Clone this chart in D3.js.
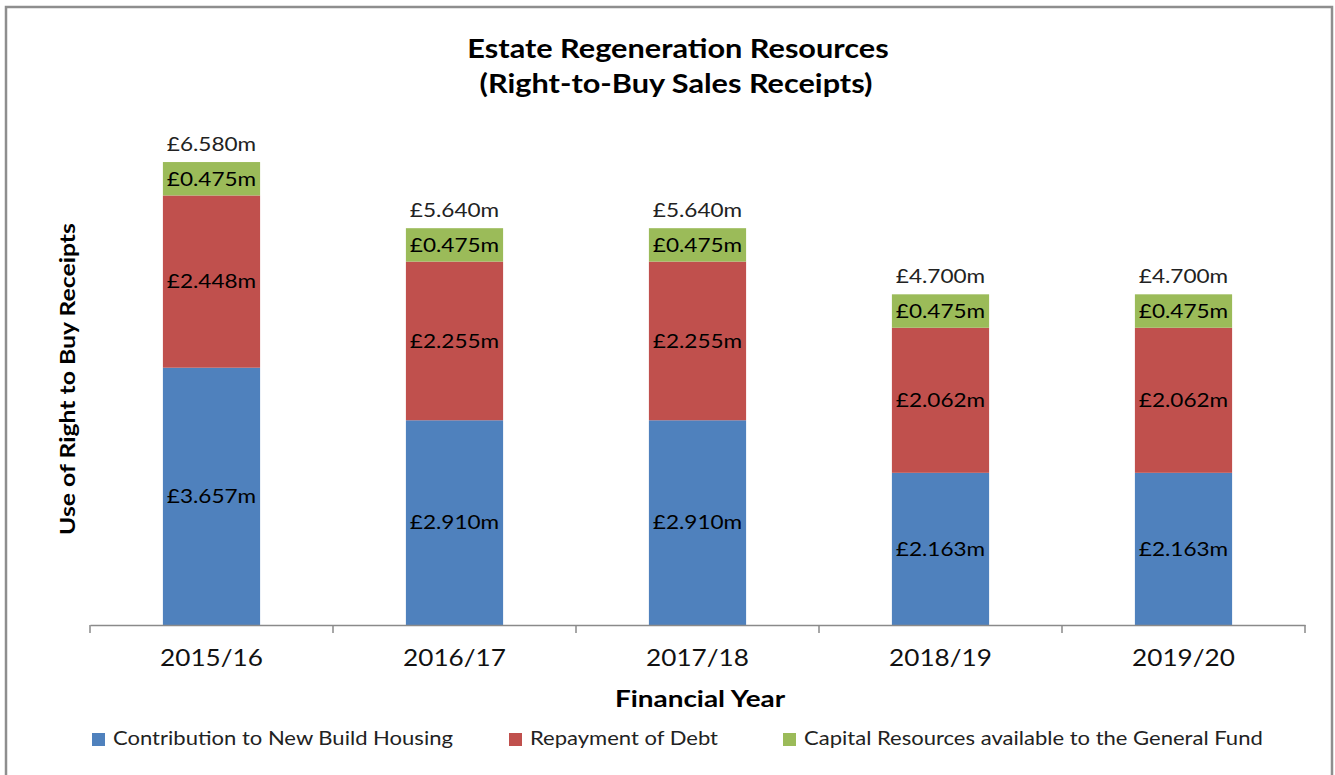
<!DOCTYPE html>
<html>
<head>
<meta charset="utf-8">
<script src="https://cdn.jsdelivr.net/npm/d3@7"></script>
<style>
  body { margin: 0; background: #fff; }
  text { font-family: Lato, "Open Sans", sans-serif; }
</style>
</head>
<body>
<div id="chart"></div>
<script>
// chart data
const years = ["2015/16", "2016/17", "2017/18", "2018/19", "2019/20"];
const newBuild = [3.657, 2.910, 2.910, 2.163, 2.163];
const debt = [2.448, 2.255, 2.255, 2.062, 2.062];
const generalFund = [0.475, 0.475, 0.475, 0.475, 0.475];
const totals = [6.580, 5.640, 5.640, 4.700, 4.700];
const seriesNames = ["Contribution to New Build Housing", "Repayment of Debt", "Capital Resources available to the General Fund"];
const seriesColors = ["#4F81BD", "#C0504D", "#9BBB59"];

const W = 1335, H = 775;
const svg = d3.select("#chart").append("svg")
  .attr("width", W).attr("height", H);

// the original font is wider than Lato, so text gets stretched a bit
const fmt = v => "£" + v.toFixed(3) + "m";

// chart area border
svg.append("rect")
  .attr("x", 6).attr("y", 7)
  .attr("width", 1326).attr("height", 800)
  .attr("fill", "none")
  .attr("stroke", "#8e8e8e")
  .attr("stroke-width", 2.5);

const x = d3.scaleBand()
  .domain(years)
  .range([90, 1305])
  .paddingInner(0.6)
  .paddingOuter(0.3);

const y = d3.scaleLinear()
  .domain([0, 7])
  .range([625, 132.5]);

const table = years.map((yr, i) => ({
  year: yr, s0: newBuild[i], s1: debt[i], s2: generalFund[i], total: totals[i]
}));
const stack = d3.stack().keys(["s0", "s1", "s2"])(table);

// bars
stack.forEach((layer, li) => {
  const g = svg.append("g");
  g.selectAll("rect")
    .data(layer)
    .enter().append("rect")
      .attr("x", d => x(d.data.year))
      .attr("y", d => y(d[1]))
      .attr("width", x.bandwidth())
      .attr("height", d => y(d[0]) - y(d[1]))
      .attr("fill", seriesColors[li]);
  g.selectAll("text")
    .data(layer)
    .enter().append("text")
      .attr("transform", d => `translate(${x(d.data.year) + x.bandwidth() / 2},${(y(d[0]) + y(d[1])) / 2}) scale(1.13,1)`)
      .attr("dy", "0.34em")
      .attr("text-anchor", "middle")
      .attr("font-size", "20px")
      .attr("fill", "#000")
      .text(d => fmt(d[1] - d[0]));
});

// totals above bars
svg.append("g").selectAll("text")
  .data(table)
  .enter().append("text")
    .attr("transform", d => `translate(${x(d.year) + x.bandwidth() / 2},${y(d.total) - 11}) scale(1.13,1)`)
    .attr("text-anchor", "middle")
    .attr("font-size", "20px")
    .attr("fill", "#222")
    .text(d => fmt(d.total));

// x axis
const xAxis = svg.append("g")
  .attr("transform", "translate(0,625)")
  .call(d3.axisBottom(x).tickSize(0));
xAxis.select(".domain").attr("stroke", "#8a8a8a").attr("stroke-width", 1.5);
xAxis.selectAll(".tick text")
  .attr("y", 41)
  .attr("dy", 0)
  .attr("transform", "scale(1.09,1)")
  .attr("font-size", "24px")
  .attr("fill", "#111")
  .attr("font-family", "Lato, sans-serif");
// category boundary ticks
const edges = years.map(d => x(d) - x.step() * x.paddingInner() / 2).concat([1305]);
edges[0] = 90;
xAxis.selectAll(".edge")
  .data(edges)
  .enter().append("line")
    .attr("x1", d => d).attr("x2", d => d)
    .attr("y1", 0).attr("y2", 8)
    .attr("stroke", "#8a8a8a")
    .attr("stroke-width", 1.5);

// title
svg.append("text")
  .attr("transform", "translate(678,58) scale(1.18,1)")
  .attr("text-anchor", "middle")
  .attr("font-size", "26px").attr("font-weight", "bold")
  .text("Estate Regeneration Resources");
svg.append("text")
  .attr("transform", "translate(676,93) scale(1.18,1)")
  .attr("text-anchor", "middle")
  .attr("font-size", "26px").attr("font-weight", "bold")
  .text("(Right-to-Buy Sales Receipts)");

// axis titles
svg.append("text")
  .attr("transform", "translate(700,707) scale(1.27,1)")
  .attr("text-anchor", "middle")
  .attr("font-size", "22px").attr("font-weight", "bold")
  .text("Financial Year");
svg.append("text")
  .attr("transform", "translate(75,379) rotate(-90) scale(1.18,1)")
  .attr("text-anchor", "middle")
  .attr("font-size", "21px").attr("font-weight", "bold")
  .text("Use of Right to Buy Receipts");

// legend
const legendX = [92, 509, 783];
const legend = svg.append("g").selectAll("g")
  .data(seriesNames)
  .enter().append("g")
    .attr("transform", (d, i) => `translate(${legendX[i]},733)`);
legend.append("rect")
  .attr("width", 13).attr("height", 13)
  .attr("fill", (d, i) => seriesColors[i]);
legend.append("text")
  .attr("transform", "translate(21,12) scale(1.16,1)")
  .attr("font-size", "19px")
  .attr("fill", "#222")
  .text(d => d);
</script>
</body>
</html>
